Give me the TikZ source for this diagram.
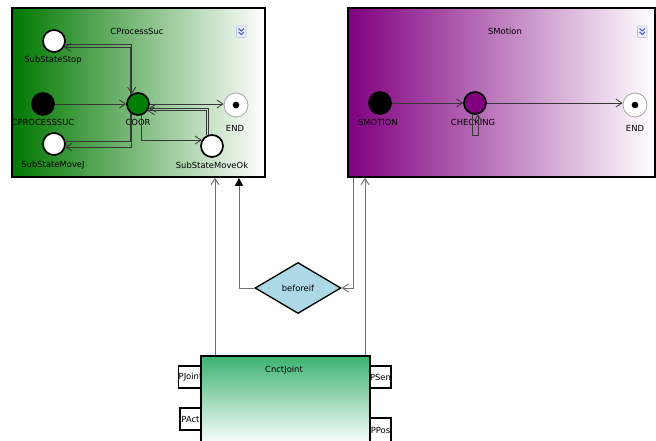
\documentclass[tikz,border=0pt]{standalone}
\usepackage{fontspec}
\setmainfont{DejaVu Sans}
\usetikzlibrary{arrows.meta,shapes.geometric,calc}
\definecolor{grnL}{RGB}{0,120,0}
\definecolor{grnS}{RGB}{0,128,0}
\definecolor{purL}{RGB}{128,0,128}
\definecolor{cjT}{RGB}{60,179,113}
\definecolor{lblue}{RGB}{173,216,230}
\definecolor{trc}{RGB}{55,55,55}
\definecolor{cnc}{RGB}{110,110,110}
\definecolor{icF}{RGB}{236,240,250}
\definecolor{icD}{RGB}{190,200,225}
\definecolor{icB}{RGB}{70,95,210}
\begin{document}
\begin{tikzpicture}[x=0.75pt,y=-0.75pt,
  font=\fontsize{6.3}{7}\selectfont,
  st/.style={circle,draw=black,line width=1.3pt,minimum size=16.5pt,inner sep=0pt},
  fin/.style={circle,draw=gray!70,line width=0.6pt,fill=white,minimum size=18pt,inner sep=0pt},
  findot/.style={circle,fill=black,minimum size=5pt,inner sep=0pt},
  lbl/.style={inner sep=0pt},
  tr/.style={draw=trc,line width=0.6pt,-{Straight Barb[length=4.5pt,width=6pt]}},
  ln/.style={draw=trc,line width=0.6pt},
  trg/.style={draw=cnc,line width=0.7pt,-{Straight Barb[length=4.5pt,width=6pt]}},
  trf/.style={draw=cnc,line width=0.7pt,-{Triangle[length=6pt,width=6pt,fill=black,color=black]}},
  port/.style={draw=black,line width=1.2pt,fill=white,inner sep=0pt,minimum width=15.75pt,minimum height=16.5pt},
  icon/.style={draw=icD,fill=icF,line width=0.4pt,rounded corners=0.8pt},
  chev/.style={draw=icB,line width=0.8pt}
]
\useasboundingbox (0,0) rectangle (656,441);
\clip (0,0) rectangle (656,441);
\fill[white] (0,0) rectangle (656,441);

% composite states
\node[draw=black,line width=1.3pt,left color=grnL,right color=white,
      minimum width=189.75pt,minimum height=126.75pt,inner sep=0pt] (cps) at (138.5,92.5) {};
\node[draw=black,line width=1.3pt,left color=purL,right color=white,
      minimum width=230.25pt,minimum height=126.75pt,inner sep=0pt] (sm) at (501.5,92.5) {};

\node[lbl] (cpsT) at (137,31) {CProcessSuc};
\node[lbl] (smT) at (505,31) {SMotion};

% collapse icons
\path[icon] (236.5,26) rectangle (246,37.5);
\draw[chev] (238.5,28.5) -- (241.25,31) -- (244,28.5);
\draw[chev] (238.5,32) -- (241.25,34.5) -- (244,32);
\path[icon] (637.5,26) rectangle (647,37.5);
\draw[chev] (639.5,28.5) -- (642.25,31) -- (645,28.5);
\draw[chev] (639.5,32) -- (642.25,34.5) -- (645,32);

% states of CProcessSuc
\node[st,fill=white] (stop) at (54,41) {};
\node[st,fill=black] (init) at (43,104) {};
\node[st,fill=grnS] (coor) at (138,104) {};
\node[fin] (endA) at (236,105) {};
\node[findot] (endAd) at (236,105) {};
\node[st,fill=white] (movej) at (54,144) {};
\node[st,fill=white] (movok) at (212,146) {};

\node[lbl] (stopL) at (53,60) {SubStateStop};
\node[lbl] (initL) at (43,122) {CPROCESSSUC};
\node[lbl] (coorL) at (138,122) {COOR};
\node[lbl] (endAL) at (235,128) {END};
\node[lbl] (movejL) at (53,165) {SubStateMoveJ};
\node[lbl] (movokL) at (212,165) {SubStateMoveOk};

% transitions of CProcessSuc
\draw[tr] (stop.-18) -| (coor.122);
\draw[tr] (coor.132) |- (stop.-32);
\draw[tr] (init.east) -- (coor.west);
\draw[tr] (coor.east) -- (coor.east -| endA.west);
\draw[tr] (movok.106) |- (coor.-20);
\draw[tr] (movok.117) |- (coor.-35);
\draw[tr] (coor.-74) |- (movok.150);
\draw[tr] (coor.-122) |- (movej.-15);
\draw[ln] (coor.-130) |- (movej.15);

% states of SMotion
\node[st,fill=black] (sinit) at (380,103) {};
\node[st,fill=purL] (chk) at (475,103) {};
\node[fin] (endB) at (635,105) {};
\node[findot] (endBd) at (635,105) {};
\node[lbl] (sinitL) at (378,122) {SMOTION};
\node[lbl] (chkL) at (473,122) {CHECKING};
\node[lbl] (endBL) at (635,128) {END};

\draw[tr] (sinit.east) -- (chk.west);
\draw[tr] (chk.east) -- (chk.east -| endB.west);
\draw[tr] (chk.-105) -- ++(0,21) -| (chk.-75);

% diamond
\node[diamond,draw=black,line width=1pt,fill=lblue,minimum width=64.5pt,
      minimum height=38.25pt,inner sep=0pt] (dia) at (298,288) {beforeif};

% ports and component
\node[port] (pj) at (190.5,377) {PJoint};
\node[port] (pa) at (190.5,419) {PAct};
\node[port] (ps) at (380.5,377) {PSen};
\node[port,minimum height=18pt] (pp) at (380.5,430) {PPos};
\node[draw=black,line width=1.3pt,top color=cjT,bottom color=white,
      minimum width=126.75pt,minimum height=66.75pt,inner sep=0pt] (cj) at (285.5,400.5) {};
\node[lbl] (cjT) at (284,370) {CnctJoint};

% connectors
\coordinate (xa) at (215,0);
\coordinate (xb) at (239,0);
\coordinate (xc) at (353,0);
\coordinate (xd) at (365,0);
\draw[trg] (cj.north -| xa) -- (cps.south -| xa);
\draw[trf] (dia.west) -| (cps.south -| xb);
\draw[trg] (sm.south -| xc) |- (dia.east);
\draw[trg] (cj.north -| xd) -- (sm.south -| xd);
\end{tikzpicture}
\end{document}
